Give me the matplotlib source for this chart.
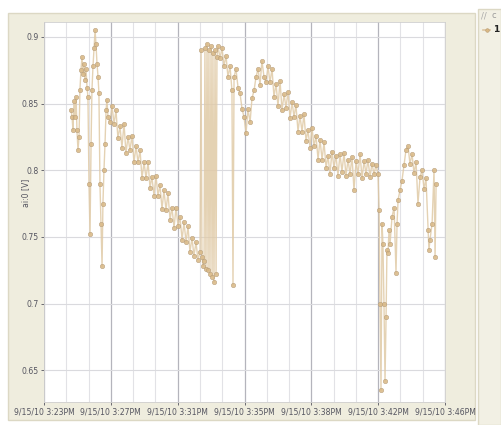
import matplotlib.pyplot as plt
from matplotlib.patches import Rectangle
from matplotlib.lines import Line2D
from matplotlib.ticker import MultipleLocator

# minutes after 3:23 PM and measured voltage
minutes = [
    1.55, 1.61, 1.66, 1.72, 1.78, 1.84, 1.89, 1.95, 2.01, 2.06, 2.12, 2.18, 2.24, 2.29,
    2.35, 2.41, 2.47, 2.52, 2.58, 2.64, 2.70, 2.75, 2.81, 2.87, 2.93, 2.98, 3.04, 3.10,
    3.15, 3.21, 3.27, 3.33, 3.38, 3.44, 3.50, 3.56, 3.61, 3.67,
    3.79, 3.90, 4.02, 4.13, 4.24, 4.36, 4.47, 4.59, 4.70, 4.82, 4.93, 5.05, 5.16, 5.28,
    5.39, 5.51, 5.62, 5.74, 5.85, 5.97, 6.08, 6.19, 6.31, 6.42, 6.54, 6.65, 6.77, 6.88,
    7.00, 7.11, 7.23, 7.34, 7.46, 7.57, 7.69, 7.80, 7.92, 8.03, 8.15, 8.26, 8.37, 8.49,
    8.60, 8.72, 8.83, 8.95,
    9.01, 9.06, 9.12, 9.18, 9.23, 9.29, 9.35, 9.41, 9.46, 9.52, 9.58, 9.64, 9.69, 9.75,
    9.81, 9.87, 9.92,
    9.98, 10.10, 10.21, 10.32, 10.44, 10.55, 10.67, 10.78, 10.84, 10.90, 11.01, 11.13,
    11.24, 11.36, 11.47, 11.59, 11.70, 11.82, 11.93, 12.05, 12.16, 12.28, 12.39, 12.50,
    12.62,
    12.73, 12.85, 12.96, 13.08, 13.19, 13.31, 13.42, 13.54, 13.65, 13.77, 13.88, 14.00,
    14.11, 14.23, 14.34, 14.45, 14.57, 14.68, 14.80, 14.91, 15.03, 15.14, 15.26, 15.37,
    15.49, 15.60, 15.72, 15.83, 15.95, 16.06, 16.18, 16.29, 16.40, 16.52, 16.63, 16.75,
    16.86, 16.98, 17.09, 17.21, 17.32, 17.44, 17.55, 17.67, 17.78, 17.90, 18.01, 18.13,
    18.24, 18.36, 18.47, 18.58, 18.70, 18.81, 18.93, 19.04, 19.16,
    19.22, 19.27, 19.33, 19.39, 19.44, 19.50, 19.56, 19.62, 19.67, 19.73, 19.79, 19.85,
    19.96, 20.08, 20.19, 20.25, 20.31, 20.42, 20.53, 20.65, 20.76, 20.88, 20.99, 21.11,
    21.22, 21.34, 21.45, 21.57, 21.68, 21.80, 21.91, 22.03, 22.08, 22.14, 22.26, 22.37,
    22.43, 22.49,
]
volts = [
    0.845, 0.840, 0.830, 0.852, 0.840, 0.855, 0.830, 0.815, 0.825, 0.860, 0.875, 0.885,
    0.872, 0.880, 0.868, 0.876, 0.862, 0.855, 0.790, 0.752, 0.820, 0.860, 0.878, 0.892,
    0.905, 0.895, 0.880, 0.870, 0.858, 0.790, 0.760, 0.728, 0.775, 0.800, 0.820, 0.845,
    0.853, 0.840,
    0.836, 0.848, 0.835, 0.845, 0.824, 0.833, 0.817, 0.835, 0.813, 0.825, 0.815, 0.826,
    0.806, 0.818, 0.806, 0.815, 0.794, 0.806, 0.794, 0.806, 0.787, 0.795, 0.781, 0.796,
    0.781, 0.789, 0.771, 0.785, 0.770, 0.783, 0.763, 0.772, 0.757, 0.772, 0.758, 0.765,
    0.748, 0.761, 0.746, 0.758, 0.739, 0.749, 0.736, 0.746, 0.733, 0.739,
    0.890, 0.735, 0.728, 0.732, 0.892, 0.726, 0.895, 0.725, 0.890, 0.722, 0.893, 0.720,
    0.888, 0.716, 0.890, 0.722, 0.885,
    0.893, 0.884, 0.892, 0.878, 0.886, 0.870, 0.878, 0.860, 0.714, 0.870, 0.876, 0.862,
    0.858, 0.846, 0.840, 0.828, 0.846, 0.836, 0.854, 0.860, 0.870, 0.876, 0.864, 0.882,
    0.870,
    0.866, 0.878, 0.866, 0.876, 0.855, 0.865, 0.848, 0.867, 0.845, 0.857, 0.847, 0.859,
    0.839, 0.851, 0.840, 0.849, 0.829, 0.841, 0.829, 0.842, 0.822, 0.830, 0.817, 0.832,
    0.818, 0.826, 0.808, 0.823, 0.808, 0.821, 0.802, 0.811, 0.797, 0.814, 0.802, 0.811,
    0.796, 0.812, 0.799, 0.813, 0.796, 0.808, 0.797, 0.810, 0.785, 0.807, 0.797, 0.812,
    0.794, 0.807, 0.797, 0.808, 0.795, 0.805, 0.797, 0.804, 0.797,
    0.770, 0.700, 0.635, 0.760, 0.745, 0.700, 0.642, 0.690, 0.740, 0.738, 0.755, 0.745,
    0.765, 0.772, 0.723, 0.760, 0.778, 0.785, 0.792, 0.804, 0.815, 0.818, 0.805, 0.812,
    0.798, 0.806, 0.775, 0.795, 0.800, 0.786, 0.794, 0.755, 0.740, 0.748, 0.760, 0.800,
    0.735, 0.790,
]

tick_labels = ['9/15/10 3:23PM', '9/15/10 3:27PM', '9/15/10 3:31PM', '9/15/10 3:35PM',
               '9/15/10 3:38PM', '9/15/10 3:42PM', '9/15/10 3:46PM']
span = 23.0
step = span / 6

fig = plt.figure(figsize=(5.01, 4.25), dpi=100, facecolor='white')
W, H = 501, 425

# window panels behind the plot
fig.patches.append(Rectangle((8 / W, 5 / H), 467 / W, 407 / H, transform=fig.transFigure,
                             facecolor='#efedde', edgecolor='#dcd8c4', lw=1, zorder=-5))
fig.patches.append(Rectangle((478 / W, 0), 23 / W, 416 / H, transform=fig.transFigure,
                             facecolor='#f2f0e4', edgecolor='#dcd8c4', lw=1, zorder=-5))

ax = fig.add_axes([44 / W, 1 - 402 / H, 401 / W, 380 / H])
ax.set_zorder(2)
ax.set_facecolor('white')

ax.plot(minutes, volts, color='#e0caa6', lw=1.0, alpha=0.85, zorder=3)
ax.plot(minutes, volts, ls='none', marker='o', ms=3.2, mfc='#d9b884', mec='#b39a78',
        mew=0.4, alpha=0.85, zorder=4)

ax.set_xlim(0, span)
ax.set_ylim(0.6262, 0.9112)
ax.xaxis.set_minor_locator(MultipleLocator(step / 3))
ax.set_xticks([i * step for i in range(7)])
ax.set_xticklabels(tick_labels)
ax.set_yticks([0.65, 0.7, 0.75, 0.8, 0.85, 0.9])
ax.set_yticklabels(['0.65', '0.7', '0.75', '0.8', '0.85', '0.9'])

ax.grid(True, which='major', axis='x', color='#b4b4bc', lw=0.9)
ax.grid(True, which='minor', axis='x', color='#e2e2e6', lw=0.8)
ax.grid(True, which='major', axis='y', color='#dadade', lw=0.8)
ax.set_axisbelow(True)

ax.tick_params(axis='both', which='major', labelsize=5.6, colors='#555560', length=2.5,
               width=0.6, pad=1.5)
ax.tick_params(axis='x', which='minor', length=0)
for s in ax.spines.values():
    s.set_color('#cfcfcf')
    s.set_linewidth(0.6)

ax.set_ylabel('ai:0 [V]', fontsize=5.6, color='#555560')
ax.yaxis.set_label_coords(-0.035, 0.55)

# legend entries at the right edge
fig.text(481 / W, 1 - 16 / H, '//', fontsize=6, color='#a8a8a8', va='center')
fig.text(492 / W, 1 - 16 / H, 'c', fontsize=6, color='#9a9a9a', va='center')
fig.add_artist(Line2D([483 / W, 490 / W], [1 - 30 / H, 1 - 30 / H], color='#dcc4a0', lw=1.2))
fig.add_artist(Line2D([486.5 / W], [1 - 30 / H], marker='o', ms=2.6, mfc='#d9b884',
                      mec='#b89a70', mew=0.4))
fig.text(493 / W, 1 - 30 / H, '1', fontsize=6.5, color='#222222', fontweight='bold',
         va='center')

fig.savefig('out.png', dpi=100, facecolor=fig.get_facecolor())
